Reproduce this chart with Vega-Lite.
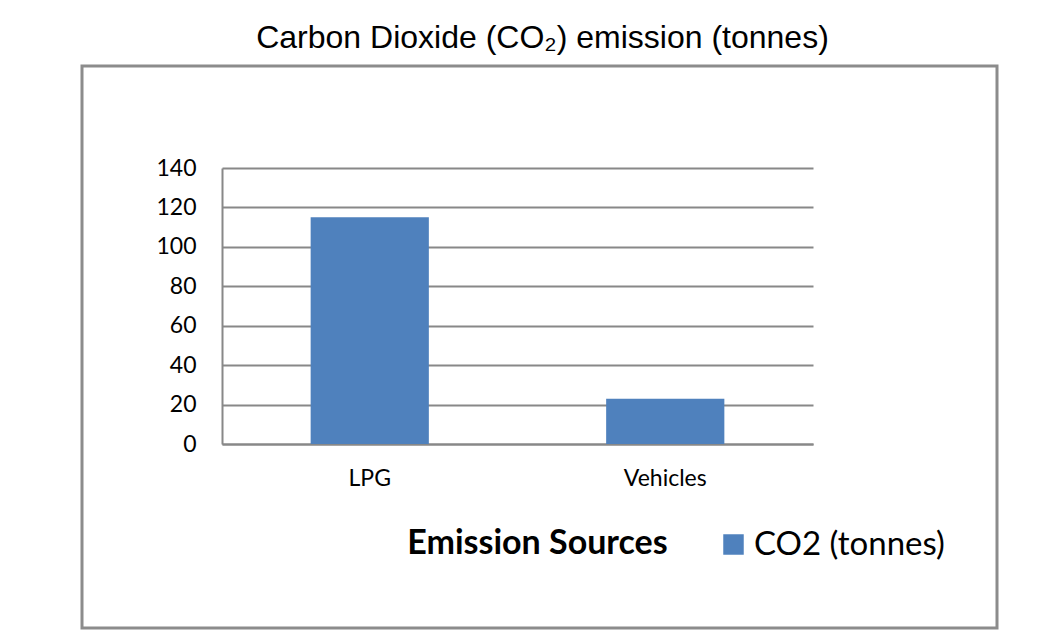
{
  "$schema": "https://vega.github.io/schema/vega-lite/v6.json",
  "width": 915,
  "height": 562,
  "autosize": {"type": "none"},
  "padding": {"left": 82, "top": 66, "right": 63, "bottom": 2},
  "background": "white",
  "title": {
    "text": "Carbon Dioxide (CO₂) emission (tonnes)",
    "font": "Liberation Sans",
    "fontSize": 32,
    "fontWeight": "normal",
    "color": "#000000",
    "anchor": "middle",
    "offset": 11,
    "dx": 3
  },
  "data": {
    "values": [
      {"source": "LPG", "series": "CO2 (tonnes)", "value": 115},
      {"source": "Vehicles", "series": "CO2 (tonnes)", "value": 23}
    ]
  },
  "mark": {"type": "bar"},
  "encoding": {
    "x": {
      "field": "source",
      "type": "nominal",
      "sort": null,
      "scale": {"range": [140, 731], "paddingInner": 0.6, "paddingOuter": 0.3},
      "axis": {
        "title": "Emission Sources",
        "titleFont": "Lato",
        "titleFontWeight": "bold",
        "titleFontSize": 34,
        "titleColor": "#000000",
        "titleX": 455,
        "titleY": 99,
        "titleAlign": "center",
        "titleBaseline": "middle",
        "titleAnchor": null,
        "labelFont": "Lato",
        "labelFontSize": 23,
        "labelColor": "#000000",
        "labelAngle": 0,
        "labelPadding": 23,
        "ticks": false,
        "tickSize": 0,
        "domainColor": "#888888",
        "domainWidth": 2,
        "grid": false,
        "offset": -184
      }
    },
    "y": {
      "field": "value",
      "type": "quantitative",
      "scale": {"domain": [0, 140], "range": [378, 102], "nice": false},
      "axis": {
        "title": null,
        "values": [0, 20, 40, 60, 80, 100, 120, 140],
        "labelFont": "Lato",
        "labelFontSize": 23,
        "labelColor": "#000000",
        "labelPadding": 26,
        "ticks": false,
        "tickSize": 0,
        "domainColor": "#888888",
        "domainWidth": 2,
        "grid": true,
        "gridColor": "#888888",
        "gridWidth": 2,
        "offset": -140
      }
    },
    "color": {
      "field": "series",
      "type": "nominal",
      "scale": {"range": ["#4F81BD"]},
      "legend": {
        "title": null,
        "orient": "none",
        "legendX": 635,
        "legendY": 462,
        "symbolType": "square",
        "symbolSize": 420,
        "symbolStrokeWidth": 0,
        "labelFont": "Lato",
        "labelFontSize": 33,
        "labelLimit": 0,
        "labelColor": "#000000",
        "labelOffset": 4,
        "padding": 0
      }
    }
  },
  "config": {
    "view": {"stroke": "#8c8c8c", "strokeWidth": 3}
  }
}
